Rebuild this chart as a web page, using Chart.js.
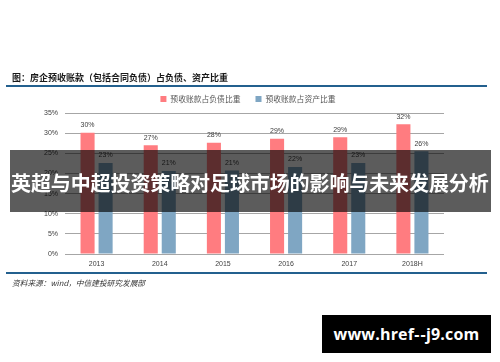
<!DOCTYPE html>
<html><head><meta charset="utf-8">
<script src="https://cdn.jsdelivr.net/npm/chart.js@4"></script>
<style>
html,body{margin:0;padding:0;background:#fff;width:500px;height:362px;overflow:hidden;}
#wrap{position:relative;width:500px;height:362px;}
canvas{position:absolute;left:0;top:0;}
.t{position:absolute;white-space:nowrap;}
#title{left:12px;top:72px;font:bold 9px "Noto Sans CJK SC";color:#1a1a1a;line-height:12px;}
.rule{position:absolute;left:6px;width:481px;height:2px;background:#23608e;}
#src{left:12px;top:277px;font:italic 7.7px "Noto Sans CJK SC";color:#333;line-height:12px;}
#banner{position:absolute;left:10px;top:150px;width:481px;height:62px;background:rgba(0,0,0,0.64);}
#bantext{left:11px;top:170px;font:bold 20px "Noto Sans CJK SC";color:#fff;line-height:26px;letter-spacing:-0.1px;}
#wm{position:absolute;left:322px;top:315px;width:169px;height:38px;background:#000;color:#fff;font:bold 16px "Open Sans";line-height:38px;text-align:center;letter-spacing:0.2px;}
</style></head>
<body><div id="wrap">
<canvas id="c" width="500" height="362"></canvas>
<div class="t" id="title">图：房企预收账款（包括合同负债）占负债、资产比重</div>
<div class="rule" style="top:85px"></div>
<div class="rule" style="top:272px"></div>
<div class="t" id="src">资料来源：wind，中信建投研究发展部</div>
<div id="banner"></div>
<div class="t" id="bantext">英超与中超投资策略对足球市场的影响与未来发展分析</div>
<div id="wm">www.href-<span style="margin-left:1px">-</span>j9.com</div>
</div>
<script>
const categories = ['2013','2014','2015','2016','2017','2018H'];
const seriesNames = ['预收账款占负债比重','预收账款占资产比重'];
const liabilityShare = [30.1, 27.0, 27.6, 28.6, 29.0, 32.2];
const assetShare = [22.6, 20.6, 20.7, 21.6, 22.6, 25.5];
const liabilityLabels = ['30%','27%','28%','29%','29%','32%'];
const assetLabels = ['23%','21%','21%','22%','23%','26%'];
const yTicks = [0,5,10,15,20,25,30,35];

const labelPlugin = {
  id:'vals',
  afterLayout(chart){
    if (chart.legend){ chart.legend.left = 0; chart.legend.right = 496; }
  },
  afterDatasetsDraw(chart){
    const ctx = chart.ctx;
    const lbls = [liabilityLabels, assetLabels];
    ctx.save();
    ctx.font = '7px "Liberation Sans"';
    ctx.fillStyle = '#404040';
    ctx.textAlign = 'center';
    ctx.textBaseline = 'bottom';
    chart.data.datasets.forEach((ds,i)=>{
      chart.getDatasetMeta(i).data.forEach((bar,j)=>{
        ctx.fillText(lbls[i][j], bar.x, bar.y - 4);
      });
    });
    ctx.restore();
  }
};

new Chart(document.getElementById('c'), {
  type:'bar',
  data:{
    labels:categories,
    datasets:[
      {label:seriesNames[0], data:liabilityShare, backgroundColor:'#ff7c80'},
      {label:seriesNames[1], data:assetShare, backgroundColor:'#7fa6c3'}
    ]
  },
  options:{
    responsive:false, animation:false,
    devicePixelRatio:1,
    layout:{padding:{top:80.2, right:56, bottom:87.6, left:0}},
    datasets:{bar:{categoryPercentage:0.571, barPercentage:0.78}},
    plugins:{
      legend:{position:'top', labels:{boxWidth:6, boxHeight:6, padding:15, color:'#595959', font:{size:7.8, family:'"Noto Sans CJK SC"'}}},
      tooltip:{enabled:false}
    },
    scales:{
      x:{
        grid:{display:false, drawTicks:false},
        border:{display:false},
        ticks:{padding:6, color:'#404040', font:{size:7, family:'"Liberation Sans"'}}
      },
      y:{
        min:0, max:35,
        afterFit(s){ s.width = 65; },
        afterBuildTicks(s){ s.ticks = yTicks.map(v=>({value:v})); },
        grid:{color:'#a6a6a6', lineWidth:1, drawTicks:false},
        border:{display:false},
        ticks:{padding:7, color:'#404040', font:{size:7, family:'"Liberation Sans"'}, callback:v=>v+'%'}
      }
    }
  },
  plugins:[labelPlugin]
});
</script>
</body></html>
